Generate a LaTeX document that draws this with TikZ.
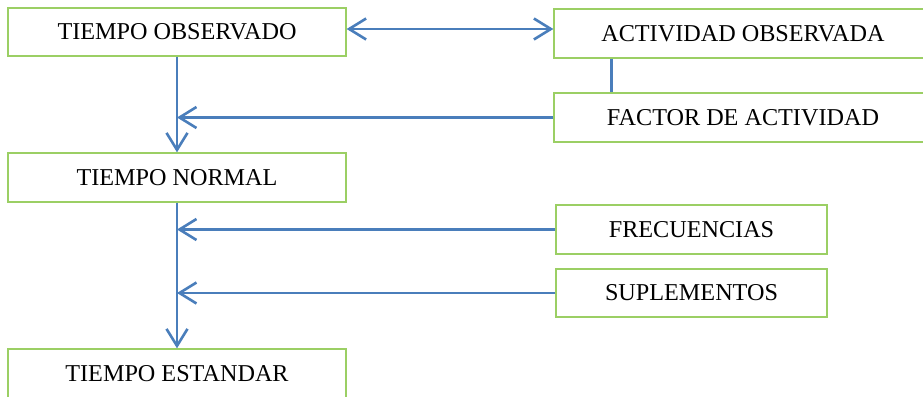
\documentclass[tikz,border=0pt]{standalone}
\usepackage{fontspec}
\setmainfont{Liberation Serif}
\usetikzlibrary{arrows.meta}
\definecolor{boxgreen}{RGB}{155,207,100}
\definecolor{arrowblue}{RGB}{74,126,187}
\tikzset{
  box/.style={draw=boxgreen, line width=1.3pt, fill=white, rectangle, inner sep=0pt,
    font=\fontsize{24.2}{28}\selectfont, text=black},
  conn/.style={draw=arrowblue, line width=2.6pt},
  arr/.style={conn, -{Straight Barb[length=17pt,width=21pt]}},
  darr/.style={conn, {Straight Barb[length=17pt,width=21pt]}-{Straight Barb[length=17pt,width=21pt]}}
}
\begin{document}
\begin{tikzpicture}
\useasboundingbox (0pt,0pt) rectangle (923pt,-396pt);
\clip (0pt,0pt) rectangle (923pt,-396pt);
\node[box, minimum width=338pt, minimum height=48pt] (TO) at (177pt,-32pt) {TIEMPO OBSERVADO};
\node[box, minimum width=378pt, minimum height=49pt] (AO) at (743pt,-33.5pt) {ACTIVIDAD OBSERVADA};
\node[box, minimum width=378pt, minimum height=49pt] (FA) at (743pt,-117.5pt) {FACTOR DE ACTIVIDAD};
\node[box, minimum width=338pt, minimum height=49pt] (TN) at (177pt,-177.5pt) {TIEMPO NORMAL};
\node[box, minimum width=271pt, minimum height=49pt] (FR) at (691.5pt,-229.5pt) {FRECUENCIAS};
\node[box, minimum width=271pt, minimum height=48pt] (SU) at (691.5pt,-293pt) {SUPLEMENTOS};
\node[box, minimum width=338pt, minimum height=49pt] (TE) at (177pt,-373.5pt) {TIEMPO ESTANDAR};

\draw[darr] ([yshift=3pt]TO.east) -- ([yshift=3pt]TO.east -| AO.west);
\draw[conn] ([xshift=58pt]AO.south west) -- ([xshift=58pt]FA.north west);
\draw[arr] (TO.south) -- (TN.north);
\draw[arr] (FA.west) -- (FA.west -| TO.south);
\draw[arr] (TN.south) -- (TE.north);
\draw[arr] (FR.west) -- (FR.west -| TN.south);
\draw[arr] (SU.west) -- (SU.west -| TN.south);
\end{tikzpicture}
\end{document}
